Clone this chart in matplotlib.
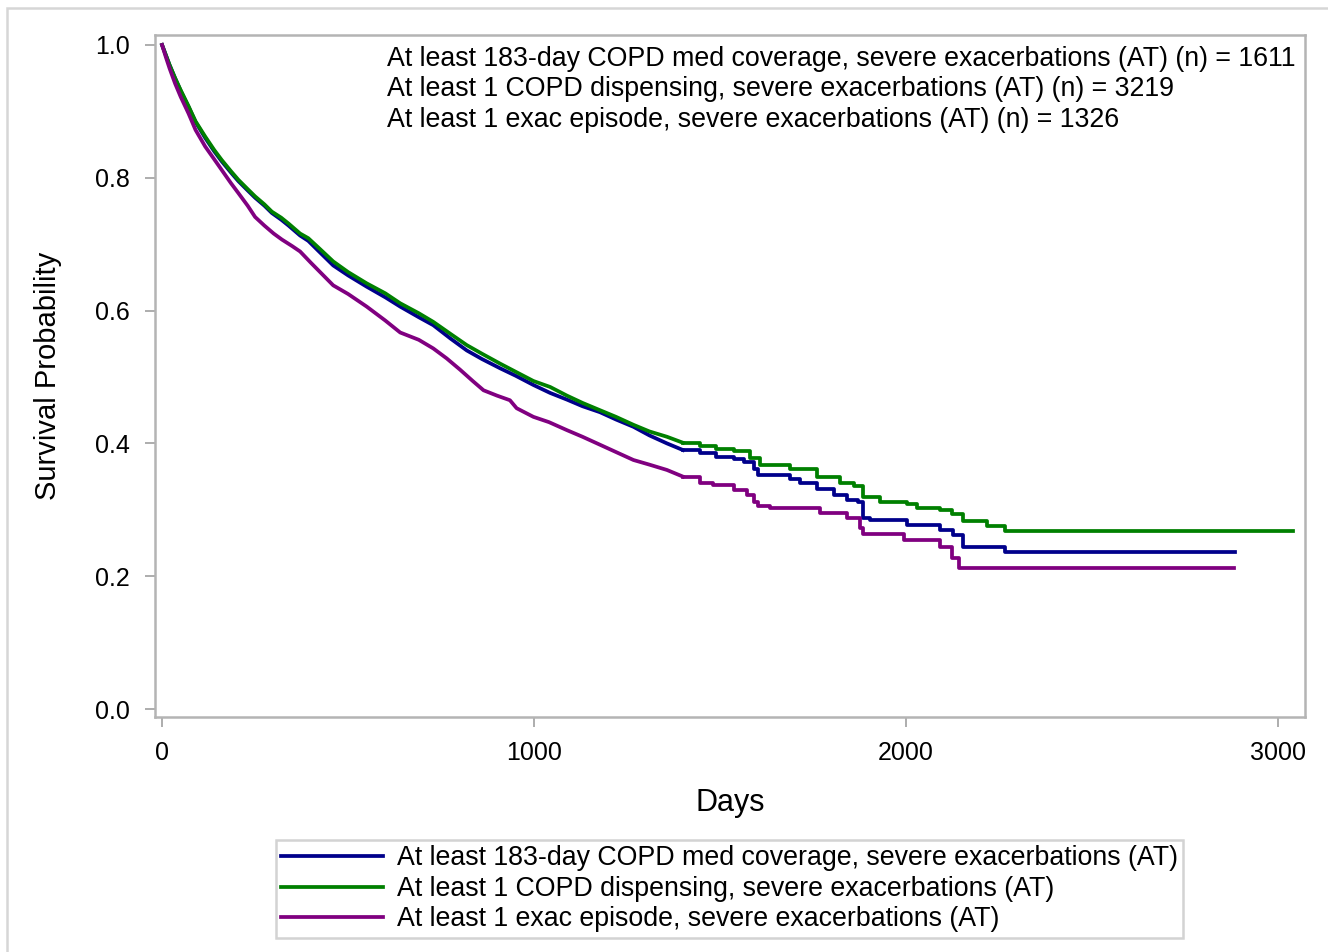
import matplotlib
matplotlib.use("Agg")
import matplotlib.pyplot as plt
from matplotlib.patches import Rectangle

plt.rcParams['font.family'] = ['Liberation Sans', 'DejaVu Sans']

# Kaplan-Meier estimates (knots)
days_cov = [0, 10, 20, 35, 50, 71, 90, 116, 140, 160, 185, 205, 230, 250, 275, 295, 320, 340,
            371, 393, 420, 460, 500, 550, 600, 640, 690, 729, 775, 819, 860, 909, 950, 998,
            1043, 1088, 1130, 1177, 1220, 1267, 1310, 1357, 1400, 1446, 1490, 1536, 1563,
            1590, 1603, 1688, 1715, 1760, 1805, 1840, 1870, 1883, 1903, 2002, 2091, 2127,
            2154, 2266, 2883]
surv_cov = [1.0, 0.985, 0.97, 0.95, 0.931, 0.907, 0.884, 0.860, 0.840, 0.825, 0.808, 0.795,
            0.781, 0.770, 0.758, 0.747, 0.737, 0.728, 0.713, 0.705, 0.690, 0.668, 0.653,
            0.636, 0.620, 0.606, 0.590, 0.578, 0.558, 0.540, 0.527, 0.513, 0.502, 0.488,
            0.476, 0.466, 0.456, 0.447, 0.436, 0.425, 0.412, 0.400, 0.390, 0.385, 0.380,
            0.377, 0.372, 0.362, 0.352, 0.347, 0.340, 0.332, 0.322, 0.315, 0.312, 0.287,
            0.284, 0.277, 0.270, 0.262, 0.244, 0.236, 0.236]

days_disp = [0, 10, 20, 35, 50, 71, 90, 116, 140, 160, 185, 205, 230, 250, 275, 295, 320, 340,
             371, 393, 420, 460, 500, 550, 600, 640, 690, 729, 775, 819, 860, 909, 950, 998,
             1043, 1088, 1130, 1177, 1220, 1267, 1310, 1357, 1400, 1446, 1490, 1536, 1581,
             1608, 1688, 1760, 1823, 1860, 1883, 1930, 2002, 2030, 2091, 2122, 2154, 2216,
             2266, 3040]
surv_disp = [1.0, 0.985, 0.97, 0.95, 0.932, 0.908, 0.885, 0.862, 0.842, 0.827, 0.810, 0.797,
             0.783, 0.772, 0.760, 0.749, 0.740, 0.731, 0.716, 0.709, 0.695, 0.674, 0.658,
             0.641, 0.626, 0.611, 0.596, 0.583, 0.565, 0.548, 0.535, 0.520, 0.508, 0.494,
             0.485, 0.472, 0.461, 0.450, 0.440, 0.428, 0.418, 0.410, 0.401, 0.396, 0.392,
             0.388, 0.378, 0.368, 0.362, 0.350, 0.341, 0.336, 0.320, 0.312, 0.308, 0.303,
             0.299, 0.293, 0.283, 0.276, 0.268, 0.268]

days_exac = [0, 10, 20, 35, 50, 71, 90, 116, 140, 160, 185, 205, 230, 250, 275, 300, 322, 350,
             371, 400, 430, 460, 500, 550, 600, 640, 690, 729, 765, 801, 835, 864, 900, 935,
             953, 998, 1040, 1088, 1130, 1177, 1220, 1267, 1310, 1357, 1400, 1446, 1482,
             1536, 1572, 1590, 1603, 1634, 1769, 1840, 1875, 1883, 1995, 2091, 2122, 2141,
             2882]
surv_exac = [1.0, 0.982, 0.965, 0.942, 0.922, 0.897, 0.872, 0.847, 0.828, 0.812, 0.792, 0.777,
             0.758, 0.741, 0.728, 0.716, 0.707, 0.697, 0.689, 0.672, 0.655, 0.638, 0.625,
             0.606, 0.585, 0.567, 0.556, 0.543, 0.528, 0.511, 0.494, 0.480, 0.472, 0.465,
             0.453, 0.440, 0.432, 0.420, 0.410, 0.398, 0.387, 0.375, 0.368, 0.360, 0.350,
             0.340, 0.337, 0.330, 0.322, 0.312, 0.306, 0.302, 0.295, 0.287, 0.272, 0.264,
             0.254, 0.244, 0.228, 0.213, 0.213]

labels = ["At least 183-day COPD med coverage, severe exacerbations (AT)",
          "At least 1 COPD dispensing, severe exacerbations (AT)",
          "At least 1 exac episode, severe exacerbations (AT)"]
n_pts = [1611, 3219, 1326]
colors = ["#00008B", "#008000", "#800080"]

# before this day the steps are tiny and dense -> draw as a line, after it as steps
STEP_FROM = 1400

W, H = 1328, 952
fig = plt.figure(figsize=(W / 100, H / 100), dpi=100)
ax = fig.add_axes([155 / W, 1 - 717 / H, 1150 / W, 682 / H])

series = [(days_cov, surv_cov), (days_disp, surv_disp), (days_exac, surv_exac)]
for (d, s), lab, c in zip(series, labels, colors):
    k = next(i for i, v in enumerate(d) if v >= STEP_FROM)
    ax.plot(d[:k + 1], s[:k + 1], color=c, lw=2.7, label=lab)
    ax.plot(d[k:], s[k:], drawstyle="steps-post", color=c, lw=2.7)

ax.set_xlim(-19, 3072)
ax.set_ylim(-0.012, 1.015)
ax.set_xticks([0, 1000, 2000, 3000])
ax.set_yticks([0.0, 0.2, 0.4, 0.6, 0.8, 1.0])
ax.set_yticklabels(["0.0", "0.2", "0.4", "0.6", "0.8", "1.0"])
ax.tick_params(axis="both", labelsize=18, color="#a0a0a0", length=7, width=1.2, pad=11,
               labelcolor="black")
ax.tick_params(axis="x", pad=10)
for sp in ax.spines.values():
    sp.set_color("#b4b4b4")
    sp.set_linewidth(1.8)

ax.set_xlabel("Days", fontsize=22, labelpad=17)
ax.set_ylabel("Survival Probability", fontsize=21, labelpad=24)

for i, (lab, n) in enumerate(zip(labels, n_pts)):
    fig.text(387 / W, 1 - (59 + 30.5 * i) / H, f"{lab} (n) = {n}", fontsize=19.3,
             va="center", ha="left")

leg = fig.legend(loc="upper left", bbox_to_anchor=(276 / W, 1 - 840 / H), fontsize=19.3,
                 frameon=True, fancybox=False, handlelength=3.8, handletextpad=0.5,
                 labelspacing=0.17, borderpad=0.2, borderaxespad=0)
leg.get_frame().set_edgecolor("#c8c8c8")
leg.get_frame().set_linewidth(1.8)

fig.patches.append(Rectangle((7 / W, -0.01), 1.02, 1 - 8 / H + 0.01, transform=fig.transFigure,
                             fill=False, edgecolor="#d6d6d6", linewidth=1.8))

fig.savefig("out.png", dpi=100)
